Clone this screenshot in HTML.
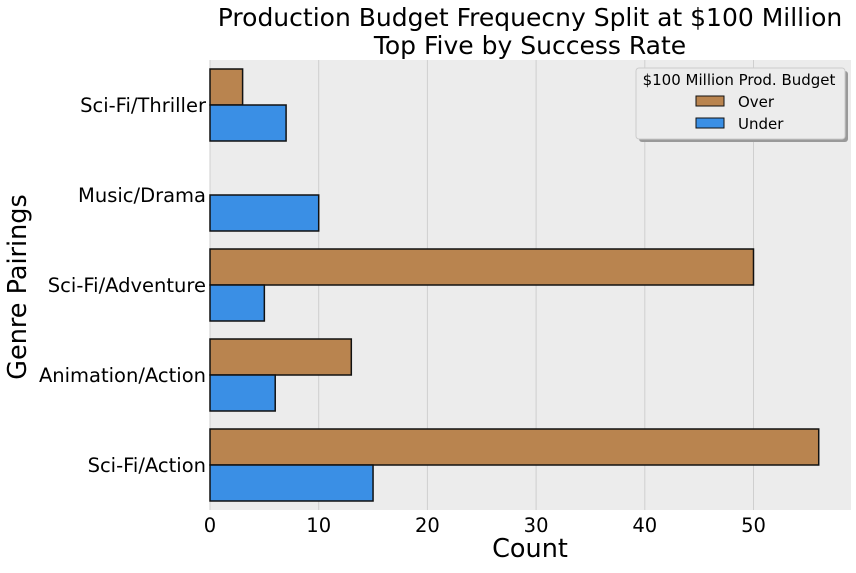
<!DOCTYPE html>
<html><head><meta charset="utf-8"><style>
body{margin:0;background:#fff;font-family:"Liberation Sans","DejaVu Sans",sans-serif;}
</style></head><body>
<svg id="chart" width="856" height="568" xmlns="http://www.w3.org/2000/svg">
<text x="530" y="26" font-size="25" text-anchor="middle" fill="#000" font-family="DejaVu Sans, sans-serif">Production Budget Frequecny Split at $100 Million</text>
<text x="530" y="54" font-size="25" text-anchor="middle" fill="#000" font-family="DejaVu Sans, sans-serif">Top Five by Success Rate</text>
<rect x="210" y="60" width="641" height="450" fill="#ececec"/>
<g id="grid"></g>
<g id="bars"></g>
<g id="xticks"></g>
<g id="yticks"></g>
<text x="530" y="557" font-size="25.5" text-anchor="middle" font-family="DejaVu Sans, sans-serif">Count</text>
<text transform="translate(26,287) rotate(-90)" font-size="25.5" text-anchor="middle" font-family="DejaVu Sans, sans-serif">Genre Pairings</text>
<g font-family="DejaVu Sans, sans-serif">
<rect x="639" y="71" width="209" height="71" rx="3" fill="#999"/>
<rect x="636" y="68" width="209" height="71" rx="3" fill="#ececec" stroke="#ccc"/>
<text x="739" y="85" font-size="15" text-anchor="middle">$100 Million Prod. Budget</text>
<rect x="696" y="96" width="28" height="10" fill="#b9844f" stroke="#111"/>
<text x="738" y="107" font-size="15">Over</text>
<rect x="696" y="118" width="28" height="10" fill="#3a8fe5" stroke="#111"/>
<text x="738" y="129" font-size="15">Under</text>
</g>
</svg>
<script>
const categories=["Sci-Fi/Action","Animation/Action","Sci-Fi/Adventure","Music/Drama","Sci-Fi/Thriller"];
const overValues=[56,13,50,0,3];
const underValues=[15,6,5,10,7];
const xTicks=[0,10,20,30,40,50];
const NS="http://www.w3.org/2000/svg";
const x=v=>210+v*10.87;
const y=i=>465-i*90;
const mk=(t,a,p)=>{const e=document.createElementNS(NS,t);for(const k in a)e.setAttribute(k,a[k]);p.appendChild(e);return e;};
const grid=document.getElementById('grid'),bars=document.getElementById('bars'),xt=document.getElementById('xticks'),yt=document.getElementById('yticks');
xTicks.forEach(v=>{
 const g=mk('line',{x1:x(v),x2:x(v),y1:60,y2:510,stroke:'#cfcfcf','stroke-width':1},grid);
 
 
 const t=mk('text',{x:x(v),y:532,'font-size':19.5,'text-anchor':'middle','font-family':'DejaVu Sans, sans-serif'},xt);
 t.textContent=v;
 
 
});
categories.forEach((c,i)=>{
 const cy=y(i);
 if(overValues[i]>0){
 const b=mk('rect',{x:x(0),y:cy-36,width:x(overValues[i])-x(0),height:36,fill:'#b9844f',stroke:'#111','stroke-width':1.5},bars);
 
 
 }
 const u=mk('rect',{x:x(0),y:cy,width:x(underValues[i])-x(0),height:36,fill:'#3a8fe5',stroke:'#111','stroke-width':1.5},bars);
 
 
 const t=mk('text',{x:206,y:cy+7,'font-size':19.5,'text-anchor':'end','font-family':'DejaVu Sans, sans-serif'},yt);
 t.textContent=c;
 
 
});
</script>
</body></html>
